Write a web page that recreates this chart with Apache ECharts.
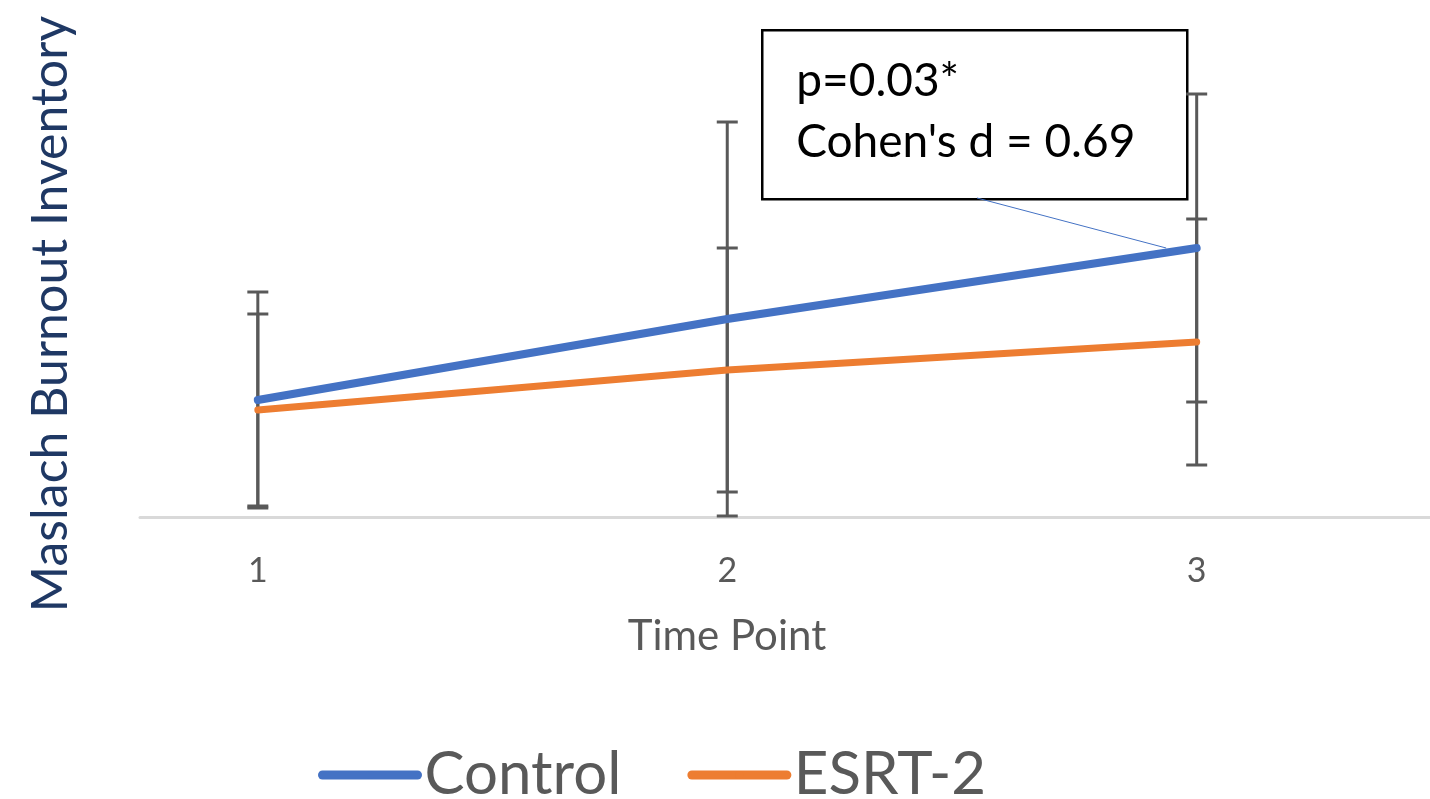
<!DOCTYPE html>
<html lang="en" style="height: 100%">
<head>
  <meta charset="utf-8">
</head>
<body style="height: 100%; margin: 0; background: #fff">
  <div id="container" style="width: 1430px; height: 799px"></div>

  <script type="text/javascript" src="https://fastly.jsdelivr.net/npm/echarts@6/dist/echarts.min.js"></script>

  <script type="text/javascript">
    // time points and group means (arbitrary score units)
    var timePoints = [1, 2, 3];
    var controlMean = [11.7, 19.8, 26.9];
    var esrtMean = [10.7, 14.7, 17.5];
    // half length of the error bars
    var controlErr = [10.8, 19.7, 15.4];
    var esrtErr = [9.6, 12.2, 12.3];

    var annotationText = "p=0.03*\nCohen's d = 0.69";

    var dom = document.getElementById('container');
    var myChart = echarts.init(dom, null, { renderer: 'canvas' });

    function errData(means, errs) {
      return timePoints.map(function (t, i) {
        return [t, means[i], errs[i]];
      });
    }

    function renderErrorBar(params, api) {
      var x = api.value(0);
      var mean = api.value(1);
      var err = api.value(2);
      var top = api.coord([x, mean + err]);
      var bottom = api.coord([x, mean - err]);
      var half = 10.5;
      var style = { stroke: '#595959', lineWidth: 3 };
      return {
        type: 'group',
        children: [
          { type: 'line', shape: { x1: top[0], y1: top[1], x2: bottom[0], y2: bottom[1] }, style: style },
          { type: 'line', shape: { x1: top[0] - half, y1: top[1], x2: top[0] + half, y2: top[1] }, style: style },
          { type: 'line', shape: { x1: bottom[0] - half, y1: bottom[1], x2: bottom[0] + half, y2: bottom[1] }, style: style }
        ]
      };
    }

    var option = {
      animation: false,
      grid: { left: 140, right: 0, top: 111, bottom: 282 },
      xAxis: {
        type: 'value',
        min: 0.749,
        max: 3.497,
        name: 'Time Point',
        nameLocation: 'middle',
        nameGap: 98,
        nameTextStyle: { fontFamily: 'Lato', fontSize: 42, color: '#595959', padding: [0, 116, 0, 0] },
        axisLine: { show: true, lineStyle: { color: '#d9d9d9', width: 3 } },
        axisTick: { show: false },
        splitLine: { show: false },
        axisLabel: {
          customValues: timePoints,
          fontFamily: 'Lato',
          fontSize: 34,
          color: '#595959',
          margin: 37
        }
      },
      yAxis: {
        type: 'value',
        min: 0,
        max: 40.6,
        name: 'Maslach Burnout Inventory',
        nameLocation: 'middle',
        nameGap: 64,
        nameTextStyle: { fontFamily: 'Lato', fontSize: 50, color: '#1F3864' },
        axisLine: { show: false },
        axisTick: { show: false },
        axisLabel: { show: false },
        splitLine: { show: false }
      },
      legend: {
        left: 313,
        top: 740,
        itemWidth: 95,
        itemHeight: 10,
        itemGap: 66,
        data: ['Control', 'ESRT-2'],
        lineStyle: { width: 9, cap: 'round' },
        textStyle: { fontFamily: 'Lato', fontSize: 60, color: '#595959', padding: [0, 0, 0, 2] }
      },
      series: [
        {
          type: 'custom',
          name: 'Control error',
          renderItem: renderErrorBar,
          data: errData(controlMean, controlErr),
          z: 1,
          clip: false,
          silent: true
        },
        {
          type: 'custom',
          name: 'ESRT-2 error',
          renderItem: renderErrorBar,
          data: errData(esrtMean, esrtErr),
          z: 1,
          clip: false,
          silent: true
        },
        {
          type: 'line',
          name: 'Control',
          data: timePoints.map(function (t, i) { return [t, controlMean[i]]; }),
          symbol: 'none',
          color: '#4472C4',
          lineStyle: { color: '#4472C4', width: 8, cap: 'round' },
          z: 4,
          markLine: {
            silent: true,
            symbol: ['none', 'none'],
            label: { show: false },
            lineStyle: { color: '#4472C4', width: 1, type: 'solid' },
            data: [[{ coord: [2.532, 31.9] }, { coord: [2.935, 26.9] }]]
          }
        },
        {
          type: 'line',
          name: 'ESRT-2',
          data: timePoints.map(function (t, i) { return [t, esrtMean[i]]; }),
          symbol: 'none',
          color: '#ED7D31',
          lineStyle: { color: '#ED7D31', width: 7, cap: 'round' },
          z: 3
        }
      ],
      graphic: [
        {
          type: 'group',
          left: 761,
          top: 29,
          z: 10,
          children: [
            {
              type: 'rect',
              shape: { x: 0, y: 0, width: 425, height: 169 },
              style: { fill: '#fff', stroke: '#000', lineWidth: 2.5 }
            },
            {
              type: 'text',
              x: 34,
              y: 20,
              style: {
                text: annotationText,
                fontFamily: 'Lato',
                fontSize: 46,
                lineHeight: 61,
                fill: '#000'
              }
            }
          ]
        }
      ]
    };

    myChart.setOption(option);
    window.addEventListener('resize', myChart.resize);
  </script>
</body>
</html>
